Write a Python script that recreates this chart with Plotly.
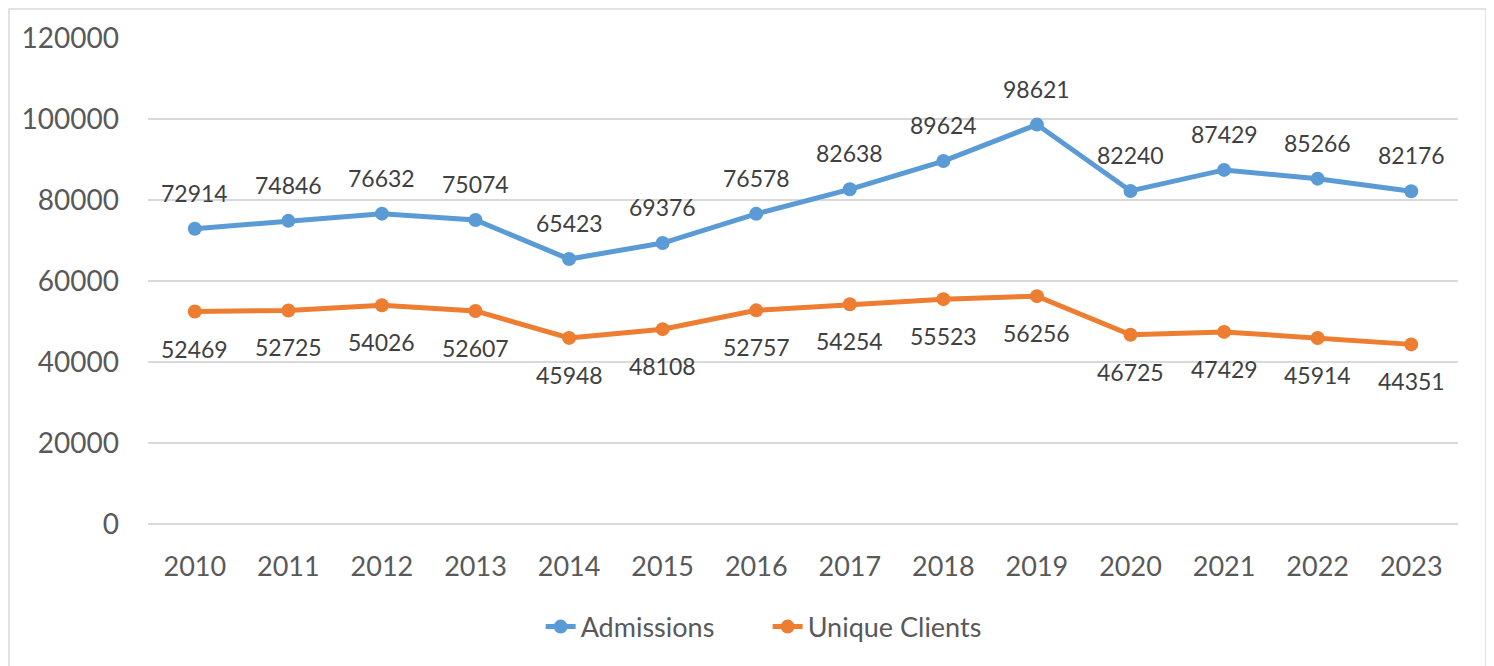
import plotly.graph_objects as go

years = ["2010", "2011", "2012", "2013", "2014", "2015", "2016", "2017", "2018", "2019", "2020", "2021", "2022", "2023"]
admissions = [72914, 74846, 76632, 75074, 65423, 69376, 76578, 82638, 89624, 98621, 82240, 87429, 85266, 82176]
unique_clients = [52469, 52725, 54026, 52607, 45948, 48108, 52757, 54254, 55523, 56256, 46725, 47429, 45914, 44351]
y_ticks = [0, 20000, 40000, 60000, 80000, 100000, 120000]

BLUE = "#5B9BD5"
ORANGE = "#ED7D31"
FONT = "Lato"

fig = go.Figure()
fig.add_trace(go.Scatter(x=years, y=admissions, name="Admissions", mode="lines+markers",
                         line=dict(color=BLUE, width=5), marker=dict(size=14, color=BLUE)))
fig.add_trace(go.Scatter(x=years, y=unique_clients, name="Unique Clients", mode="lines+markers",
                         line=dict(color=ORANGE, width=5), marker=dict(size=14, color=ORANGE)))

annotations = []
for i, v in enumerate(admissions):
    annotations.append(dict(x=i, y=v, text=str(v), showarrow=False, yshift=36, yanchor="middle",
                            font=dict(family=FONT, size=23, color="#404040")))
for i, v in enumerate(unique_clients):
    annotations.append(dict(x=i, y=v, text=str(v), showarrow=False, yshift=-37, yanchor="middle",
                            font=dict(family=FONT, size=23, color="#404040")))

fig.update_layout(
    width=1494, height=666,
    margin=dict(l=140, r=44, t=30, b=150),
    paper_bgcolor="white", plot_bgcolor="white",
    font=dict(family=FONT, color="#595959"),
    annotations=annotations,
    showlegend=True,
    legend=dict(orientation="h", x=0.473, xanchor="center", y=-0.212, yanchor="middle",
                entrywidth=182, entrywidthmode="pixels",
                font=dict(family=FONT, size=27, color="#595959")),
    shapes=[dict(type="rect", xref="paper", yref="paper", x0=-0.1061, x1=1.0214, y0=-0.4, y1=1.0597,
                 line=dict(color="#D9D9D9", width=1.5), fillcolor="rgba(0,0,0,0)", layer="below")],
)
fig.update_xaxes(type="category", range=[-0.5, len(years) - 0.5], showgrid=False, showline=False,
                 zeroline=False, ticks="",
                 tickfont=dict(family=FONT, size=27, color="#595959"), ticklabelstandoff=24)
fig.update_yaxes(range=[0, 120000], tickvals=y_ticks, tickformat="d", showgrid=True, gridcolor="#D9D9D9",
                 gridwidth=1.5, zeroline=True, zerolinecolor="#D9D9D9", zerolinewidth=1.5, showline=False,
                 ticks="", tickfont=dict(family=FONT, size=28, color="#595959"), ticklabelstandoff=28)

fig.write_html("out.html")
